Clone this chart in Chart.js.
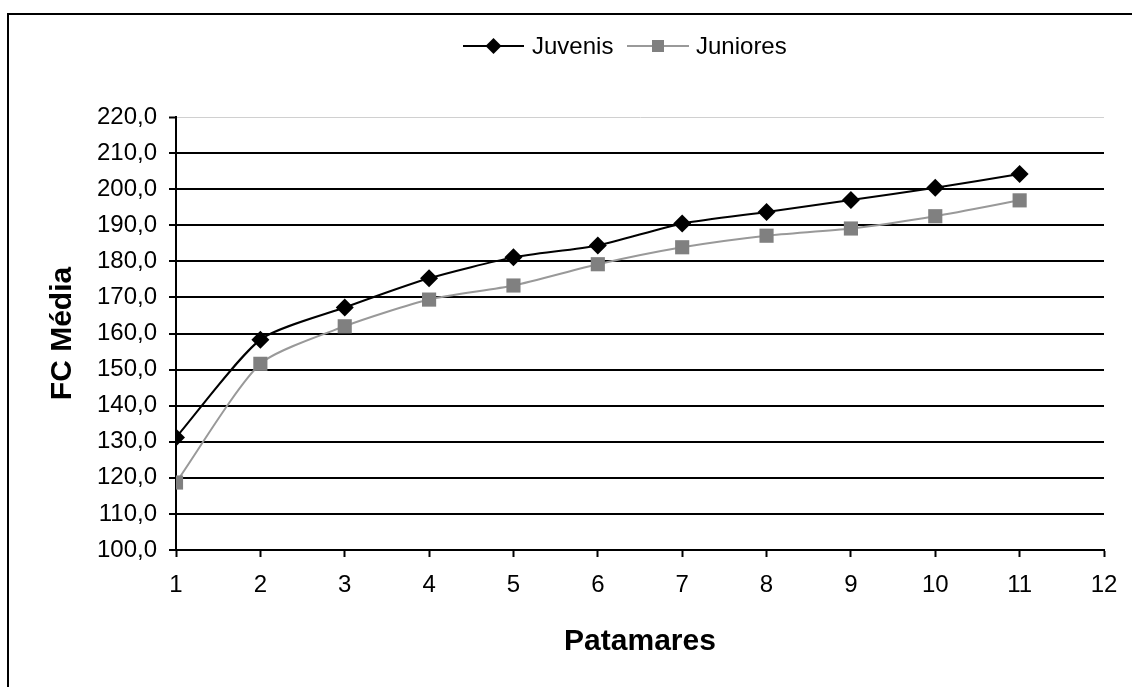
<!DOCTYPE html>
<html>
<head>
<meta charset="utf-8">
<script src="https://cdn.jsdelivr.net/npm/chart.js"></script>
<style>
  html, body { margin: 0; padding: 0; background: #fff; }
  #frame { position: absolute; left: 7px; top: 13px; width: 1200px; height: 800px; border-left: 2px solid #000; border-top: 2px solid #000; }
  #wrap { position: absolute; left: 0; top: 0; width: 1132px; height: 687px; }
</style>
</head>
<body>
<div id="frame"></div>
<div id="wrap"><canvas id="myChart" width="1132" height="687"></canvas></div>
<script>
// Patamares (stages) and mean heart rate per group
var patamares = [1, 2, 3, 4, 5, 6, 7, 8, 9, 10, 11];
var juvenis  = [131.2, 158.3, 167.2, 175.3, 181.1, 184.4, 190.5, 193.7, 197.0, 200.4, 204.2];
var juniores = [118.7, 151.6, 162.0, 169.4, 173.3, 179.2, 183.9, 187.1, 189.1, 192.5, 196.9];
var seriesNames = ['Juvenis', 'Juniores'];

var FONT = '"Liberation Sans", Arial, sans-serif';

function toPoints(ys) {
  return patamares.map(function (x, i) { return { x: x, y: ys[i] }; });
}

// Excel style legend: line segment with marker in the middle
var legendPlugin = {
  id: 'excelLegend',
  afterDraw: function (chart) {
    var ctx = chart.ctx;
    var y = 46;
    var items = [
      { name: seriesNames[0], x0: 463, x1: 524, line: '#000', fill: '#000', shape: 'diamond', tx: 532 },
      { name: seriesNames[1], x0: 627, x1: 689, line: '#999', fill: '#808080', shape: 'square', tx: 696 }
    ];
    ctx.save();
    items.forEach(function (it) {
      ctx.strokeStyle = it.line;
      ctx.lineWidth = 2;
      ctx.beginPath();
      ctx.moveTo(it.x0, y);
      ctx.lineTo(it.x1, y);
      ctx.stroke();
      var cx = (it.x0 + it.x1) / 2;
      ctx.fillStyle = it.fill;
      ctx.beginPath();
      if (it.shape === 'diamond') {
        ctx.moveTo(cx, y - 8); ctx.lineTo(cx + 8, y); ctx.lineTo(cx, y + 8); ctx.lineTo(cx - 8, y);
        ctx.closePath();
      } else {
        ctx.rect(cx - 6, y - 6, 12, 12);
      }
      ctx.fill();
      ctx.fillStyle = '#000';
      ctx.font = '24px ' + FONT;
      ctx.textBaseline = 'middle';
      ctx.textAlign = 'left';
      ctx.fillText(it.name, it.tx, y + 1);
    });
    ctx.restore();
  }
};

var ctx = document.getElementById('myChart').getContext('2d');
var myChart = new Chart(ctx, {
  type: 'line',
  data: {
    datasets: [{
      label: seriesNames[0],
      data: toPoints(juvenis),
      borderColor: '#000',
      backgroundColor: '#000',
      borderWidth: 2,
      pointStyle: 'rectRot',
      pointRadius: 9,
      pointBorderWidth: 0,
      tension: 0.22
    }, {
      label: seriesNames[1],
      data: toPoints(juniores),
      borderColor: '#999',
      backgroundColor: '#808080',
      borderWidth: 2,
      pointStyle: 'rect',
      pointRadius: 10,
      pointBorderWidth: 0,
      tension: 0.22
    }]
  },
  options: {
    responsive: false,
    animation: false,
    layout: { padding: { left: 0, top: 117, right: 28, bottom: 0 } },
    plugins: { legend: { display: false }, tooltip: { enabled: false } },
    scales: {
      x: {
        type: 'linear',
        min: 1, max: 12,
        afterFit: function (s) { s.height = 137; },
        border: { color: '#000', width: 2 },
        grid: { drawOnChartArea: false, drawTicks: true, tickLength: 7, tickColor: '#000', tickWidth: 2 },
        ticks: { stepSize: 1, color: '#000', font: { family: FONT, size: 24 }, padding: 14 },
        title: { display: true, text: 'Patamares', color: '#000', font: { family: FONT, size: 30, weight: 'bold' }, padding: { top: 0, bottom: 27 } }
      },
      y: {
        min: 100, max: 220,
        afterFit: function (s) { s.width = 176; },
        border: { color: '#000', width: 2 },
        grid: {
          color: function (c) { return c.tick && c.tick.value === 220 ? '#d0d0d0' : '#000'; },
          lineWidth: function (c) { return c.tick && c.tick.value === 220 ? 1 : 2; },
          tickColor: '#000', tickWidth: 2, tickLength: 7
        },
        ticks: {
          stepSize: 10, color: '#000', font: { family: FONT, size: 24 }, padding: 12,
          callback: function (v) { return v.toFixed(1).replace('.', ','); }
        },
        title: { display: true, text: 'FC Média', color: '#000', font: { family: FONT, size: 30, weight: 'bold' }, padding: { top: 45, bottom: 0 } }
      }
    }
  },
  plugins: [legendPlugin]
});
</script>
</body>
</html>
